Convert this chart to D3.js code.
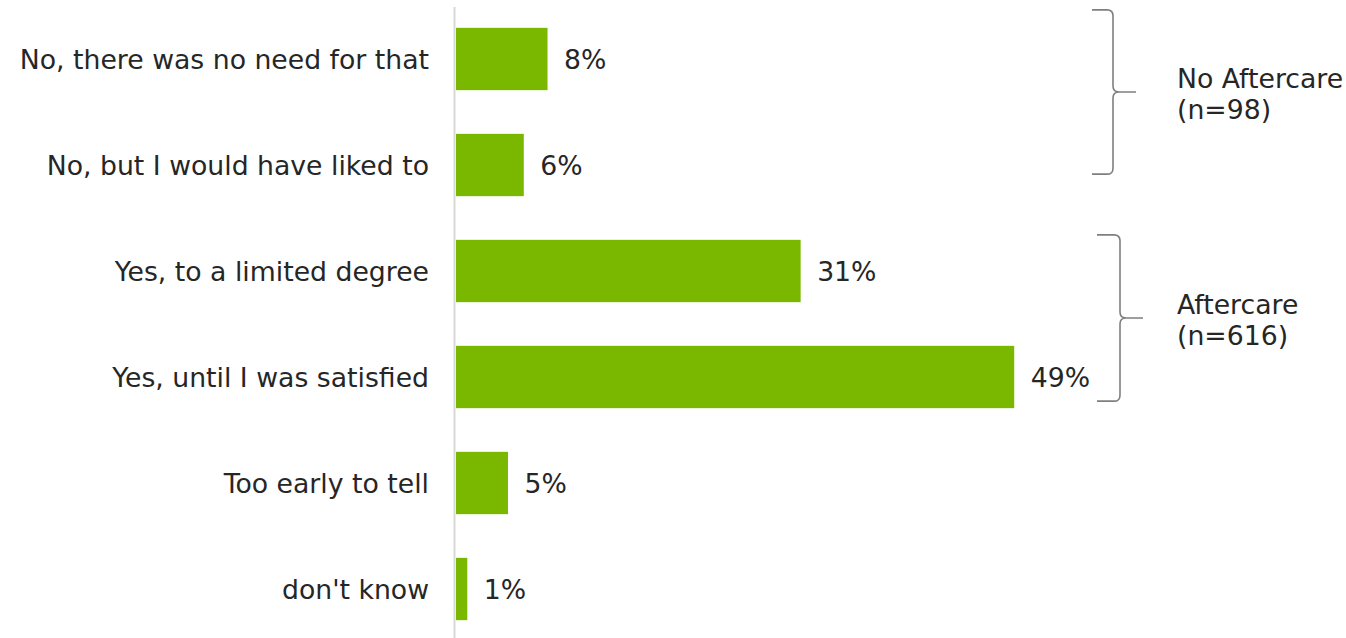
<!DOCTYPE html>
<html>
<head>
<meta charset="utf-8">
<script src="https://cdn.jsdelivr.net/npm/d3@7"></script>
<style>
  html, body { margin: 0; padding: 0; background: #fff; }
  svg { display: block; }
</style>
</head>
<body>
<svg id="chart" width="1346" height="638"></svg>
<script>
const categories = [
  "No, there was no need for that",
  "No, but I would have liked to",
  "Yes, to a limited degree",
  "Yes, until I was satisfied",
  "Too early to tell",
  "don't know"
];
const values = [8.1, 6.0, 30.5, 49.4, 4.6, 1.0];
const valueLabels = ["8%", "6%", "31%", "49%", "5%", "1%"];
const groups = [
  { line1: "No Aftercare", line2: "(n=98)", from: 0, to: 1 },
  { line1: "Aftercare", line2: "(n=616)", from: 2, to: 3 }
];

const svg = d3.select("#chart");
const font = "'DejaVu Sans', Verdana, sans-serif";
const fontSize = 26.7;
const textColor = "#262626";

const y = d3.scaleBand()
  .domain(categories)
  .range([6, 642])
  .paddingInner(0.412)
  .paddingOuter(0.206);

const x = d3.scaleLinear()
  .domain([0, 50])
  .range([456, 456 + 565]);

// axis line
svg.append("line")
  .attr("x1", x(0) - 1.5).attr("x2", x(0) - 1.5)
  .attr("y1", 7).attr("y2", 638)
  .attr("stroke", "#d9d9d9")
  .attr("stroke-width", 2);

// bars
svg.selectAll("rect.bar")
  .data(values)
  .join("rect")
  .attr("class", "bar")
  .attr("x", x(0))
  .attr("y", (d, i) => y(categories[i]))
  .attr("width", d => x(d) - x(0))
  .attr("height", y.bandwidth())
  .attr("fill", "#7ab800");

// category labels
svg.selectAll("text.cat")
  .data(categories)
  .join("text")
  .attr("class", "cat")
  .attr("x", x(0) - 27)
  .attr("y", d => y(d) + y.bandwidth() / 2)
  .attr("dy", "0.36em")
  .attr("text-anchor", "end")
  .attr("font-family", font)
  .attr("font-size", fontSize)
  .attr("fill", textColor)
  .text(d => d);

// value labels
svg.selectAll("text.val")
  .data(values)
  .join("text")
  .attr("class", "val")
  .attr("x", d => x(d) + 16.5)
  .attr("y", (d, i) => y(categories[i]) + y.bandwidth() / 2)
  .attr("dy", "0.36em")
  .attr("font-family", font)
  .attr("font-size", fontSize)
  .attr("fill", textColor)
  .text((d, i) => valueLabels[i]);

// brackets
const bracketSpecs = [
  { xl: 1092, xv: 1113, xt: 1136, topOff: -18, botOff: -22 },
  { xl: 1097, xv: 1120, xt: 1143, topOff: -5, botOff: -7 }
];
groups.forEach((g, gi) => {
  const s = bracketSpecs[gi];
  const top = y(categories[g.from]) + s.topOff;
  const bot = y(categories[g.to]) + y.bandwidth() + s.botOff;
  const mid = (top + bot) / 2;
  const r = 6;
  const p = d3.path();
  p.moveTo(s.xl, top);
  p.lineTo(s.xv - r, top);
  p.quadraticCurveTo(s.xv, top, s.xv, top + r);
  p.lineTo(s.xv, mid - r);
  p.quadraticCurveTo(s.xv, mid, s.xv + r, mid);
  p.lineTo(s.xt, mid);
  p.moveTo(s.xv + r, mid);
  p.quadraticCurveTo(s.xv, mid, s.xv, mid + r);
  p.lineTo(s.xv, bot - r);
  p.quadraticCurveTo(s.xv, bot, s.xv - r, bot);
  p.lineTo(s.xl, bot);
  svg.append("path")
    .attr("d", p.toString())
    .attr("fill", "none")
    .attr("stroke", "#7f7f7f")
    .attr("stroke-width", 1.6);

  const t = svg.append("text")
    .attr("font-family", font)
    .attr("font-size", fontSize)
    .attr("fill", textColor);
  t.append("tspan").attr("x", 1177).attr("y", mid - 4).text(g.line1);
  t.append("tspan").attr("x", 1177).attr("y", mid + 27).text(g.line2);
});
</script>
</body>
</html>
